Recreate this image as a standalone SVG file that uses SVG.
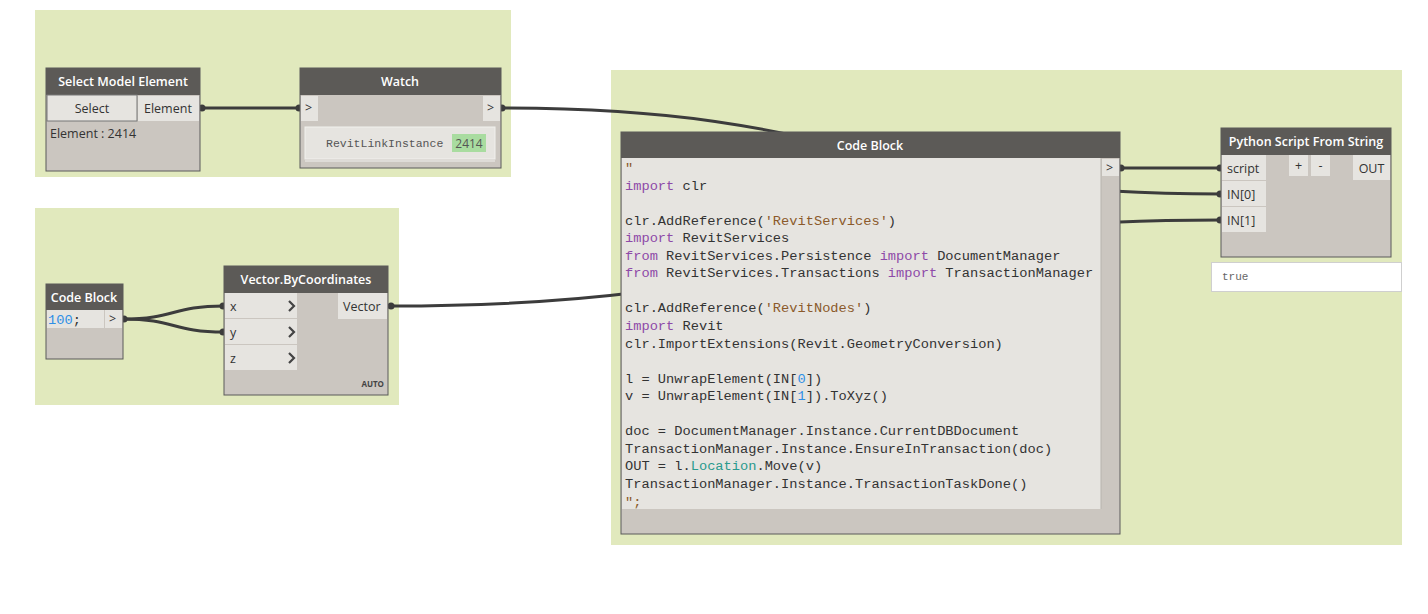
<svg xmlns="http://www.w3.org/2000/svg" width="1428" height="614" viewBox="0 0 1428 614">
<style>
.grp{fill:#e1e9bd}
.node{fill:#cbc6c0;stroke:#5a5a5a;stroke-width:1}
.hdr{fill:#5c5a57}
.title{font-family:"Open Sans","Noto Sans",sans-serif;font-weight:600;font-size:12.5px;fill:#ffffff;text-anchor:middle}
.port{fill:#e6e4e0}
.lbl{font-family:"Open Sans","Noto Sans",sans-serif;font-size:12.5px;fill:#333333}
.mono{font-family:"Liberation Mono","DejaVu Sans Mono",monospace;font-size:13.7px;fill:#333333}
.kw{fill:#8e4aa8}
.str{fill:#8b5a2b}
.num{fill:#2f8fe6}
.prop{fill:#2a9a8e}
.wire{fill:none;stroke:#3c3c3c;stroke-width:3}
.dot{fill:#3c3c3c}
.chev{fill:none;stroke:#444;stroke-width:2.2}
</style>

<!-- groups -->
<rect class="grp" x="35" y="10" width="476" height="167"/>
<rect class="grp" x="35" y="208" width="364" height="197"/>
<rect class="grp" x="611" y="70" width="791" height="475"/>

<!-- connectors -->
<g id="connectors">
<path class="wire" d="M201,108 L300,108"/>
<path class="wire" d="M502,108 C861,108 861,194 1221,194"/>
<path class="wire" d="M390,306 C805,306 805,220 1221,220"/>
<path class="wire" d="M1121,168 L1221,168"/>
<path class="wire" d="M123,319 C175,319 172,306 224,306"/>
<path class="wire" d="M123,319 C175,319 172,332 224,332"/>
<circle class="dot" cx="202" cy="108" r="3.5"/>
<circle class="dot" cx="299" cy="108" r="3.5"/>
<circle class="dot" cx="502" cy="108" r="3.5"/>
<circle class="dot" cx="1121" cy="168" r="3.5"/>
<circle class="dot" cx="1220" cy="168" r="3.5"/>
<circle class="dot" cx="1220" cy="194" r="3.5"/>
<circle class="dot" cx="1220" cy="220" r="3.5"/>
<circle class="dot" cx="391" cy="306" r="3.5"/>
<circle class="dot" cx="124" cy="319" r="3.5"/>
<circle class="dot" cx="223" cy="306" r="3.5"/>
<circle class="dot" cx="223" cy="332" r="3.5"/>
</g>

<!-- Select Model Element -->
<g id="node-select">
<rect class="node" x="46" y="68" width="154" height="103"/>
<rect class="hdr" x="46" y="68" width="154" height="27"/>
<text class="title" x="123" y="86">Select Model Element</text>
<rect x="47" y="95" width="90" height="26" fill="#e6e4e0" stroke="#777" stroke-width="1"/>
<text class="lbl" x="92" y="113" text-anchor="middle">Select</text>
<rect class="port" x="138" y="96" width="61" height="25"/>
<text class="lbl" x="144" y="113" fill="#555">Element</text>
<text class="lbl" x="50" y="138" font-size="12px">Element : 2414</text>
</g>

<!-- Watch -->
<g id="node-watch">
<rect class="node" x="300" y="68" width="201" height="100"/>
<rect class="hdr" x="300" y="68" width="201" height="27"/>
<text class="title" x="400" y="86">Watch</text>
<rect class="port" x="301" y="96" width="17" height="25"/>
<text class="lbl" x="305" y="112" font-size="11px">&gt;</text>
<rect class="port" x="483" y="96" width="17" height="25"/>
<text class="lbl" x="487" y="112" font-size="11px">&gt;</text>
<rect x="305" y="127" width="190" height="32" fill="#e6e4e0" stroke="#f2f1ee" stroke-width="1"/>
<rect x="305" y="159" width="190" height="3" fill="#dedbd7"/>
<text x="326" y="147" font-family="Liberation Mono,DejaVu Sans Mono,monospace" font-size="11.5px" fill="#555">RevitLinkInstance</text>
<rect x="452" y="134" width="34" height="18" fill="#a9dca0"/>
<text x="469" y="148" font-family="Open Sans,Noto Sans,sans-serif" font-size="12px" fill="#555" text-anchor="middle">2414</text>
</g>

<!-- small Code Block -->
<g id="node-codeblock-small">
<rect class="node" x="46" y="284" width="77" height="75"/>
<rect class="hdr" x="46" y="284" width="77" height="26"/>
<text class="title" x="84" y="302">Code Block</text>
<rect class="port" x="47" y="310" width="57" height="18"/>
<text class="mono" x="48" y="324"><tspan class="num">100</tspan>;</text>
<rect class="port" x="105" y="310" width="17" height="18"/>
<text class="lbl" x="109" y="323" font-size="11px">&gt;</text>
</g>

<!-- Vector.ByCoordinates -->
<g id="node-vector">
<rect class="node" x="224" y="266" width="164" height="129"/>
<rect class="hdr" x="224" y="266" width="164" height="27"/>
<text class="title" x="306" y="284">Vector.ByCoordinates</text>
<rect class="port" x="225" y="293" width="72" height="25"/>
<rect class="port" x="225" y="319" width="72" height="25"/>
<rect class="port" x="225" y="345" width="72" height="25"/>
<text class="lbl" x="230" y="311" fill="#555">x</text>
<text class="lbl" x="230" y="337" fill="#555">y</text>
<text class="lbl" x="230" y="363" fill="#555">z</text>
<polyline class="chev" points="289,301 294,306 289,311"/>
<polyline class="chev" points="289,327 294,332 289,337"/>
<polyline class="chev" points="289,353 294,358 289,363"/>
<rect class="port" x="338" y="293" width="49" height="26"/>
<text class="lbl" x="343" y="311" fill="#555">Vector</text>
<text x="384" y="387" font-family="Open Sans,Noto Sans,sans-serif" font-weight="700" font-size="8px" fill="#444" text-anchor="end">AUTO</text>
</g>

<!-- large Code Block -->
<g id="node-codeblock">
<rect class="node" x="621" y="132" width="499" height="402"/>
<rect class="hdr" x="621" y="132" width="499" height="26"/>
<text class="title" x="870" y="150">Code Block</text>
<rect x="622" y="158" width="479" height="351" fill="#e6e4e0"/>
<line x1="1101" y1="158" x2="1101" y2="509" stroke="#b8b4ae" stroke-width="1"/>
<rect class="port" x="1102" y="159" width="17" height="17"/>
<text class="lbl" x="1106" y="172" font-size="11px">&gt;</text>
<g class="mono">
<text x="625" y="172"><tspan class="str">"</tspan></text>
<text x="625" y="189.5"><tspan class="kw">import</tspan> clr</text>
<text x="625" y="224.6">clr.AddReference(<tspan class="str">'RevitServices'</tspan>)</text>
<text x="625" y="242.2"><tspan class="kw">import</tspan> RevitServices</text>
<text x="625" y="259.7"><tspan class="kw">from</tspan> RevitServices.Persistence <tspan class="kw">import</tspan> DocumentManager</text>
<text x="625" y="277.3"><tspan class="kw">from</tspan> RevitServices.Transactions <tspan class="kw">import</tspan> TransactionManager</text>
<text x="625" y="312.4">clr.AddReference(<tspan class="str">'RevitNodes'</tspan>)</text>
<text x="625" y="329.9"><tspan class="kw">import</tspan> Revit</text>
<text x="625" y="347.5">clr.ImportExtensions(Revit.GeometryConversion)</text>
<text x="625" y="382.6">l = UnwrapElement(IN[<tspan class="num">0</tspan>])</text>
<text x="625" y="400.2">v = UnwrapElement(IN[<tspan class="num">1</tspan>]).ToXyz()</text>
<text x="625" y="435.3">doc = DocumentManager.Instance.CurrentDBDocument</text>
<text x="625" y="452.8">TransactionManager.Instance.EnsureInTransaction(doc)</text>
<text x="625" y="470.4">OUT = l.<tspan class="prop">Location</tspan>.Move(v)</text>
<text x="625" y="487.9">TransactionManager.Instance.TransactionTaskDone()</text>
<text x="625" y="505.5"><tspan class="str">";</tspan></text>
</g>
</g>

<!-- Python Script From String -->
<g id="node-python">
<rect class="node" x="1221" y="128" width="170" height="129"/>
<rect class="hdr" x="1221" y="128" width="170" height="27"/>
<text class="title" x="1306" y="146">Python Script From String</text>
<rect class="port" x="1222" y="155" width="44" height="25"/>
<rect class="port" x="1222" y="181" width="44" height="25"/>
<rect class="port" x="1222" y="207" width="44" height="25"/>
<text class="lbl" x="1227" y="173" fill="#555">script</text>
<text class="lbl" x="1227" y="199" fill="#555">IN[0]</text>
<text class="lbl" x="1227" y="225" fill="#555">IN[1]</text>
<rect class="port" x="1289" y="155" width="19" height="21"/>
<text class="lbl" x="1298.5" y="170" text-anchor="middle">+</text>
<rect class="port" x="1311" y="155" width="19" height="21"/>
<text class="lbl" x="1320.5" y="170" text-anchor="middle">-</text>
<rect class="port" x="1353" y="155" width="37" height="25"/>
<text class="lbl" x="1371.5" y="173" text-anchor="middle" fill="#555">OUT</text>
<rect x="1211.5" y="262.5" width="190" height="29" fill="#ffffff" stroke="#cfcfcf" stroke-width="1"/>
<text x="1222" y="280" font-family="Liberation Mono,DejaVu Sans Mono,monospace" font-size="11px" fill="#666">true</text>
</g>
</svg>
